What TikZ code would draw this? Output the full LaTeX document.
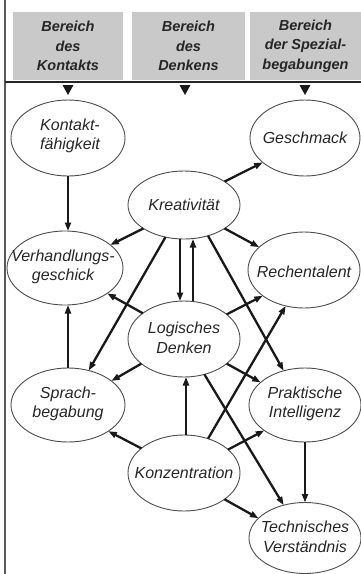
\documentclass[tikz,border=0pt]{standalone}
\usepackage{fontspec}
\setmainfont{Liberation Sans}
\usetikzlibrary{shapes.geometric,arrows.meta,calc}
\begin{document}
\begin{tikzpicture}[x=1pt,y=-1pt,
  ell/.style 2 args={ellipse, draw=black!70, line width=0.9pt, inner sep=0pt, outer sep=0pt,
                     minimum width=#1pt, minimum height=#2pt},
  txt/.style={font=\fontsize{16}{19.5}\selectfont\itshape, align=center, text=black!85, inner sep=0pt},
  hbox/.style={fill=gray!42, inner sep=0pt, minimum height=68pt, align=center,
               font=\fontsize{14.5}{19.5}\selectfont\bfseries\itshape, text=black!85},
  arr/.style={line width=2.3pt, draw=black!90, -{Triangle[length=8.5pt,width=6pt]}},
  hline/.style={line width=2.2pt, draw=black!85},
  tri/.style={fill=black!90}
]
\useasboundingbox (0,0) rectangle (361,574);
% frame
\draw[line width=2pt, draw=black!65] (4.5,0) -- (4.5,574);
\node[hbox, minimum width=110pt] (H1) at (68,46) {Bereich\\des\\Kontakts};
\node[hbox, minimum width=113pt] (H2) at (188.5,46) {Bereich\\des\\Denkens};
\node[hbox, minimum width=111pt] (H3) at (305.5,46) {Bereich\\der Spezial-\\begabungen};
\draw[hline] (4.5,82) -- (361,82);
\fill[tri] (62.5,85) -- (73.5,85) -- (68,95) -- cycle;
\fill[tri] (179.5,85) -- (190.5,85) -- (185,95) -- cycle;
\fill[tri] (299.5,85) -- (310.5,85) -- (305,95) -- cycle;
% ellipses
\node[ell={114}{76}] (K)  at (68,138) {};
\node[ell={110}{76}] (G)  at (305,138) {};
\node[ell={112}{68}] (Kr) at (184,205) {};
\node[ell={116}{74}] (V)  at (65,268) {};
\node[ell={112}{76}] (R)  at (304,270) {};
\node[ell={112}{76}] (L)  at (184,339) {};
\node[ell={114}{74}] (S)  at (68,405) {};
\node[ell={112}{74}] (P)  at (305,405) {};
\node[ell={112}{76}] (Kz) at (184,473) {};
\node[ell={112}{71}] (T)  at (305,538) {};
% texts
\node[txt] (Kt)  at (70,136) {Kontakt-\\fähigkeit};
\node[txt] (Gt)  at (305,138) {Geschmack};
\node[txt] (Krt) at (184,205) {Kreativität};
\node[txt] (Vt)  at (63,267) {Verhandlungs-\\geschick};
\node[txt] (Rt)  at (304,272) {Rechentalent};
\node[txt] (Lt)  at (184,338) {Logisches\\Denken};
\node[txt] (St)  at (68,404) {Sprach-\\begabung};
\node[txt] (Pt)  at (305,404) {Praktische\\Intelligenz};
\node[txt] (Kzt) at (184,473) {Konzentration};
\node[txt] (Tt)  at (305,537) {Technisches\\Verständnis};
% connectors
\draw[arr] (K.south) -- (K.south |- V.north);
\draw[arr] (Kr.30) -- (G.210);
\draw[arr] (Kr.210) -- (V.27);
\draw[arr] (Kr.-30) -- (R.153);
\draw[arr] (Kr.240) -- (S.59);
\draw[arr] ([xshift=-4pt]Kr.south) -- ([xshift=-4pt]L.north);
\draw[arr] ([xshift=9pt]L.north) -- ([xshift=9pt]Kr.south);
\draw[arr] (Kr.-52) -- (P.122);
\draw[arr] (L.148) -- (V.-31);
\draw[arr] (L.30) -- (R.212);
\draw[arr] (L.210) -- (S.29);
\draw[arr] (L.-30) -- (P.153);
\draw[arr] (S.north) -- (S.north |- V.south);
\draw[arr] ([xshift=2pt]Kz.north) -- ([xshift=2pt]L.south);
\draw[arr] (Kz.150) -- (S.-33);
\draw[arr] (Kz.55) -- (R.243);
\draw[arr] (Kz.28) -- (P.212);
\draw[arr] (Kz.-33) -- (T.157);
\draw[arr] (L.-60) -- (T.123);
\draw[arr] (P.south) -- (P.south |- T.north);
\end{tikzpicture}
\end{document}
